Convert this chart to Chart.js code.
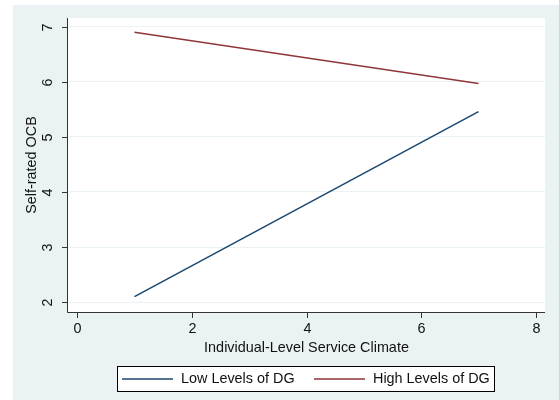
<!DOCTYPE html>
<html>
<head>
<meta charset="utf-8">
<script src="https://cdn.jsdelivr.net/npm/chart.js@4"></script>
<style>
  html, body { margin: 0; padding: 0; background: #ffffff; }
  #wrap { width: 559px; height: 400px; position: relative; }
</style>
</head>
<body>
<div id="wrap"><canvas id="c" width="559" height="400"></canvas></div>
<script>
// data
var serviceClimate = [1, 7];
var lowDG = [2.1, 5.46];
var highDG = [6.9, 5.97];
var xTicks = [0, 2, 4, 6, 8];
var yTicks = [2, 3, 4, 5, 6, 7];
var seriesNames = ['Low Levels of DG', 'High Levels of DG'];
var seriesColors = ['#1a476f', '#90353b'];

var FONT = '14.4px "Liberation Sans", Arial, sans-serif';

// background, axes, tick labels, titles and legend in Stata style
var stataLook = {
    id: 'stataLook',
    beforeDraw: function(chart) {
        var c = chart.ctx, a = chart.chartArea;
        c.save();
        c.fillStyle = '#ffffff';
        c.fillRect(0, 0, chart.width, chart.height);
        c.fillStyle = '#eaf2f3';
        c.fillRect(13, 5, chart.width - 13, chart.height - 5);
        c.fillStyle = '#ffffff';
        c.fillRect(a.left, a.top, a.right - a.left, a.bottom - a.top);
        c.restore();
    },
    afterDraw: function(chart) {
        var c = chart.ctx, a = chart.chartArea;
        var xs = chart.scales.x, ys = chart.scales.y;
        c.save();
        c.strokeStyle = '#333333';
        c.lineWidth = 1;
        // axis lines
        c.beginPath();
        c.moveTo(a.left - 0.5, a.top);
        c.lineTo(a.left - 0.5, a.bottom + 0.5);
        c.lineTo(a.right, a.bottom + 0.5);
        c.stroke();
        c.fillStyle = '#111111';
        c.font = FONT;
        // x ticks
        c.textAlign = 'center';
        c.textBaseline = 'middle';
        xTicks.forEach(function(v) {
            var px = Math.round(xs.getPixelForValue(v)) + 0.5;
            c.beginPath();
            c.moveTo(px, a.bottom);
            c.lineTo(px, a.bottom + 6);
            c.stroke();
            c.fillText(String(v), px, a.bottom + 17);
        });
        // y ticks, labels rotated
        yTicks.forEach(function(v) {
            var py = Math.round(ys.getPixelForValue(v)) + 0.5;
            c.beginPath();
            c.moveTo(a.left - 6, py);
            c.lineTo(a.left, py);
            c.stroke();
            c.save();
            c.translate(a.left - 20, py);
            c.rotate(-Math.PI / 2);
            c.fillText(String(v), 0, 0);
            c.restore();
        });
        // axis titles
        c.fillText('Individual-Level Service Climate', (a.left + a.right) / 2, 348);
        c.save();
        c.translate(32, (a.top + a.bottom) / 2);
        c.rotate(-Math.PI / 2);
        c.fillText('Self-rated OCB', 0, 0);
        c.restore();
        // legend box
        c.fillStyle = '#ffffff';
        c.fillRect(117, 366, 378, 25);
        c.strokeStyle = '#000000';
        c.strokeRect(117.5, 366.5, 377, 25);
        var starts = [122, 314];
        chart.data.datasets.forEach(function(ds, i) {
            c.strokeStyle = ds.borderColor;
            c.lineWidth = 1.5;
            c.beginPath();
            c.moveTo(starts[i], 379);
            c.lineTo(starts[i] + 51, 379);
            c.stroke();
            c.fillStyle = '#111111';
            c.textAlign = 'left';
            c.fillText(ds.label, starts[i] + 59, 379);
        });
        c.restore();
    }
};

function points(ys) {
    return serviceClimate.map(function(x, i) { return { x: x, y: ys[i] }; });
}

new Chart(document.getElementById('c'), {
    type: 'line',
    data: {
        datasets: [
            { label: seriesNames[0], data: points(lowDG), borderColor: seriesColors[0], borderWidth: 1.5, pointRadius: 0, fill: false, tension: 0 },
            { label: seriesNames[1], data: points(highDG), borderColor: seriesColors[1], borderWidth: 1.5, pointRadius: 0, fill: false, tension: 0 }
        ]
    },
    options: {
        responsive: false,
        animation: false,
        layout: { padding: { left: 68, right: 14, top: 18, bottom: 88 } },
        plugins: { legend: { display: false }, tooltip: { enabled: false } },
        scales: {
            x: {
                type: 'linear',
                min: -0.16, max: 8.16,
                grid: { display: false, drawTicks: false },
                border: { display: false },
                ticks: { display: false }
            },
            y: {
                type: 'linear',
                min: 1.82, max: 7.16,
                afterBuildTicks: function(s) { s.ticks = yTicks.map(function(v) { return { value: v }; }); },
                grid: { color: '#eaf2f3', lineWidth: 1, drawTicks: false },
                border: { display: false },
                ticks: { display: false }
            }
        }
    },
    plugins: [stataLook]
});
</script>
</body>
</html>
